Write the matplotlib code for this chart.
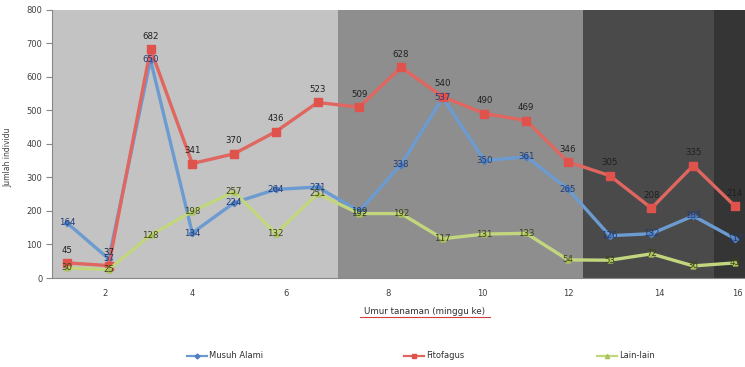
import matplotlib
matplotlib.use("Agg")
import matplotlib.pyplot as plt
import numpy as np

# Observations per sampling week
musuh_alami = [164, 57, 650, 134, 224, 264, 271, 199, 338, 537, 350, 361, 265, 126, 132, 185, 117]
fitofagus = [45, 37, 682, 341, 370, 436, 523, 509, 628, 540, 490, 469, 346, 305, 208, 335, 214]
lain_lain = [30, 25, 128, 198, 257, 132, 251, 192, 192, 117, 131, 133, 54, 53, 72, 36, 45]

series_names = ["Musuh Alami", "Fitofagus", "Lain-lain"]
week_labels = ["2", "4", "6", "8", "10", "12", "14", "16"]
y_ticks = [0, 100, 200, 300, 400, 500, 600, 700, 800]

W, H = 745, 367
fig = plt.figure(figsize=(W / 100, H / 100), dpi=100)
fig.patch.set_facecolor("white")

ax_left, ax_right, ax_top, ax_bottom = 52, 745, 9.5, 278
ax = fig.add_axes([ax_left / W, 1 - ax_bottom / H,
                   (ax_right - ax_left) / W, (ax_bottom - ax_top) / H])

x = np.arange(len(fitofagus))
ax.set_xlim(-0.36, 16.24)
ax.set_ylim(0, 800)

# growth-stage shading
bands = [(-0.36, 6.5, "#c3c3c3"), (6.5, 12.35, "#8e8e8e"),
         (12.35, 15.5, "#4a4a4a"), (15.5, 16.24, "#353535")]
for x0, x1, c in bands:
    ax.axvspan(x0, x1, color=c, zorder=0, lw=0)

blue = "#6b9bd0"
red = "#e06660"
green = "#c2d67e"

ax.plot(x, musuh_alami, color=blue, lw=2.4, marker="D", ms=3.2,
        mfc="#4f7fc0", mec="#4f7fc0", zorder=3, solid_joinstyle="round")
ax.plot(x, fitofagus, color=red, lw=2.4, marker="s", ms=6,
        mfc="#e0524c", mec="#e0524c", zorder=4, solid_joinstyle="round")
ax.plot(x, lain_lain, color=green, lw=2.4, marker="^", ms=3.5,
        mfc="#a9c25a", mec="#a9c25a", zorder=5, solid_joinstyle="round")

fs = 6.2
for xi, v in zip(x, fitofagus):
    ax.annotate(str(v), (xi, v), xytext=(0, 6), textcoords="offset points",
                ha="center", va="bottom", fontsize=fs, color="#202020", zorder=7)
for xi, v in zip(x, musuh_alami):
    ax.annotate(str(v), (xi, v), xytext=(0, 0), textcoords="offset points",
                ha="center", va="center", fontsize=fs, color="#1f3b78", zorder=7)
for xi, v in zip(x, lain_lain):
    ax.annotate(str(v), (xi, v), xytext=(0, 0), textcoords="offset points",
                ha="center", va="center", fontsize=fs, color="#3b4512", zorder=7)

ax.set_yticks(y_ticks)
ax.set_yticklabels([str(t) for t in y_ticks], fontsize=6, color="#404040")
ax.set_xticks([0.9, 3.0, 5.25, 7.7, 9.95, 12.0, 14.2, 16.05])
ax.set_xticklabels(week_labels, fontsize=6, color="#404040")
ax.tick_params(axis="y", length=4, width=0.8, color="#888888", pad=3)
ax.tick_params(axis="x", length=0, pad=8)
for side in ["top", "right"]:
    ax.spines[side].set_visible(False)
ax.spines["left"].set_color("#888888")
ax.spines["bottom"].set_color("#888888")
ax.spines["left"].set_linewidth(0.8)
ax.spines["bottom"].set_linewidth(0.8)

fig.text(8 / W, 1 - 157 / H, "Jumlah individu", rotation=90, fontsize=5.5,
         color="#404040", ha="center", va="center")
xl = fig.text(425 / W, 1 - 312 / H, "Umur tanaman (minggu ke)", fontsize=6.3,
              color="#303030", ha="center", va="center")
fig.lines.append(plt.Line2D([360 / W, 490 / W], [1 - 317 / H, 1 - 317 / H],
                            transform=fig.transFigure, color="#d04040", lw=0.8))

handles = [
    plt.Line2D([], [], color=blue, lw=1.6, marker="D", ms=2.5, mfc="#4f7fc0", mec="#4f7fc0"),
    plt.Line2D([], [], color=red, lw=1.6, marker="s", ms=3.5, mfc="#e0524c", mec="#e0524c"),
    plt.Line2D([], [], color=green, lw=1.6, marker="^", ms=3, mfc="#a9c25a", mec="#a9c25a"),
]
leg_x = [187, 404, 597]
for hx, hnd, name in zip(leg_x, handles, series_names):
    fig.legend([hnd], [name], loc="center left",
               bbox_to_anchor=((hx - 8) / W, 1 - 356 / H), frameon=False,
               fontsize=6, handlelength=2.4, handletextpad=0.3,
               labelcolor="#303030")

fig.savefig("out.png", dpi=100, facecolor="white")
